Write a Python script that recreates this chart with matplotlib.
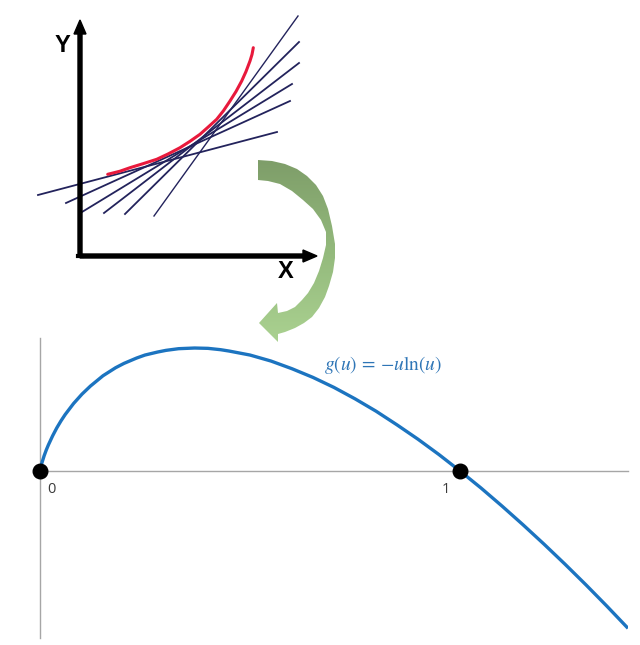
import numpy as np
import matplotlib
matplotlib.use("Agg")
import matplotlib.pyplot as plt
from matplotlib.patches import Polygon

# ==========================================
# 1. Data
# ==========================================
# bottom panel: g(u) = -u ln(u)
u_vals = [0.0, 0.002, 0.005, 0.01, 0.015, 0.02, 0.03, 0.04, 0.05, 0.06, 0.08,
          0.10, 0.12, 0.15, 0.18, 0.20, 0.23, 0.25, 0.28, 0.30, 0.33, 0.368,
          0.40, 0.43, 0.45, 0.50, 0.55, 0.60, 0.65, 0.70, 0.75, 0.80, 0.85,
          0.90, 0.95, 1.00, 1.05, 1.10, 1.15, 1.20, 1.25, 1.30, 1.35, 1.40]
g_vals = [0.0, 0.012, 0.026, 0.046, 0.063, 0.078, 0.105, 0.129, 0.150, 0.169,
          0.202, 0.230, 0.254, 0.285, 0.309, 0.322, 0.338, 0.347, 0.356, 0.361,
          0.366, 0.368, 0.367, 0.363, 0.359, 0.347, 0.329, 0.306, 0.280, 0.250,
          0.216, 0.179, 0.138, 0.095, 0.049, 0.0, -0.051, -0.105, -0.161,
          -0.219, -0.279, -0.341, -0.405, -0.471]
dot_u = [0, 1]
dot_g = [0, 0]
tick_labels = ["0", "1"]

# top-left sketch: convex curve and its tangent lines (sketch units)
curve_x = [27.7, 40, 50, 63, 76.7, 88, 100, 110, 120, 128, 136.7, 143.5,
           150, 156, 161.7, 166, 170, 172, 173.3]
curve_y = [81.7, 84.8, 88.3, 92.3, 96.7, 102, 108.3, 114.7, 121.7, 128.8,
           136.7, 145.3, 155, 164.5, 175, 184.5, 195, 201.5, 208.3]
tan_x0 = [-42, -14, 2, 24, 45, 74]
tan_y0 = [61, 53, 44, 43, 42, 40]
tan_x1 = [197, 210, 212, 219, 219, 218]
tan_y1 = [124, 155, 172, 193, 214, 240]

# ==========================================
# 2. Figure
# ==========================================
W, H = 640, 645
fig = plt.figure(figsize=(W / 100, H / 100), dpi=100)

def px_axes(x0, y0, x1, y1):
    # axes from pixel box (y measured from top)
    return fig.add_axes([x0 / W, 1 - y1 / H, (x1 - x0) / W, (y1 - y0) / H])

# ---------- bottom plot ----------
ax = px_axes(40, 338, 628, 638)
ax.plot(u_vals, g_vals, color="#1c74c0", lw=2.4, solid_capstyle="butt",
        zorder=3)
ax.scatter(dot_u, dot_g, s=110, color="black", zorder=4, clip_on=False)
ax.set_xlim(0, 1.4)
ax.set_ylim(-0.5, 0.398)
for side in ["top", "right"]:
    ax.spines[side].set_visible(False)
ax.spines["left"].set_position(("data", 0))
ax.spines["bottom"].set_position(("data", 0))
for side in ["left", "bottom"]:
    ax.spines[side].set_color("#a6a6a6")
    ax.spines[side].set_linewidth(1.0)
ax.set_xticks([])
ax.set_yticks([])
ax.patch.set_alpha(0)
ax.text(dot_u[0] + 0.028, -0.055, tick_labels[0], fontsize=10.5,
        color="#3a3a3a", ha="center", va="center", family="Open Sans")
ax.text(dot_u[1] - 0.033, -0.055, tick_labels[1], fontsize=10.5,
        color="#3a3a3a", ha="center", va="center", family="Open Sans")
plt.rcParams["mathtext.fontset"] = "stix"
ax.text(0.817, 0.317, r"$g(u)\,=\,{-}u\ln(u)$", fontsize=14, color="#2e75b6",
        ha="center", va="center")

# ---------- top-left sketch ----------
ax2 = px_axes(30, 0, 320, 290)
ax2.set_xlim(-50, 240)
ax2.set_ylim(-34, 256)
ax2.axis("off")
for i in range(len(tan_x0)):
    lw = 1.0 if i == len(tan_x0) - 1 else 1.3
    ax2.plot([tan_x0[i], tan_x1[i]], [tan_y0[i], tan_y1[i]],
             color="#23235c", lw=lw, zorder=2)
ax2.plot(curve_x, curve_y, color="#e8193c", lw=2.2, zorder=3,
         solid_capstyle="round", solid_joinstyle="round")
ax2.arrow(0, 0, 0, 236, width=4, head_width=12, head_length=14,
          length_includes_head=True, color="black", zorder=4)
ax2.arrow(0, 0, 237, 0, width=4, head_width=12, head_length=14,
          length_includes_head=True, color="black", zorder=4)
ax2.plot([-2, 2], [0, 0], color="black", lw=3)
ax2.text(-18, 210, "Y", fontsize=17, fontweight="bold", ha="center",
         va="center", family="Liberation Sans")
ax2.text(206, -16, "X", fontsize=17, fontweight="bold", ha="center",
         va="center", family="Liberation Sans")

# ---------- curved green arrow ----------
ov = fig.add_axes([0, 0, 1, 1])
ov.set_xlim(0, W)
ov.set_ylim(H, 0)
ov.axis("off")
outer = [(258, 160), (272, 161), (285, 164), (297, 169), (307, 176),
         (316, 185), (323, 196), (328, 209), (332, 226), (335, 244),
         (335, 258), (333, 272), (329, 286), (325, 297), (319, 308),
         (312, 317), (304, 323), (295, 328), (285, 332), (278, 334),
         (278, 342), (259, 323), (277, 303)]
inner = [(278, 313), (287, 311), (295, 307), (302, 300), (308, 293),
         (314, 283), (319, 271), (323, 258), (326, 245), (326, 232),
         (321, 220), (313, 209), (303, 200), (292, 191), (280, 184),
         (268, 181), (258, 180)]
arrow = Polygon(outer + inner, closed=True, facecolor="none",
                edgecolor="none")
ov.add_patch(arrow)
grad = np.linspace(0, 1, 256).reshape(-1, 1)
cmap = matplotlib.colors.LinearSegmentedColormap.from_list(
    "grn", ["#7d9c68", "#93b97c", "#abd291"])
im = ov.imshow(grad, extent=(250, 340, 345, 155), cmap=cmap, aspect="auto",
               zorder=5)
im.set_clip_path(arrow)

fig.savefig("out.png", dpi=100)
